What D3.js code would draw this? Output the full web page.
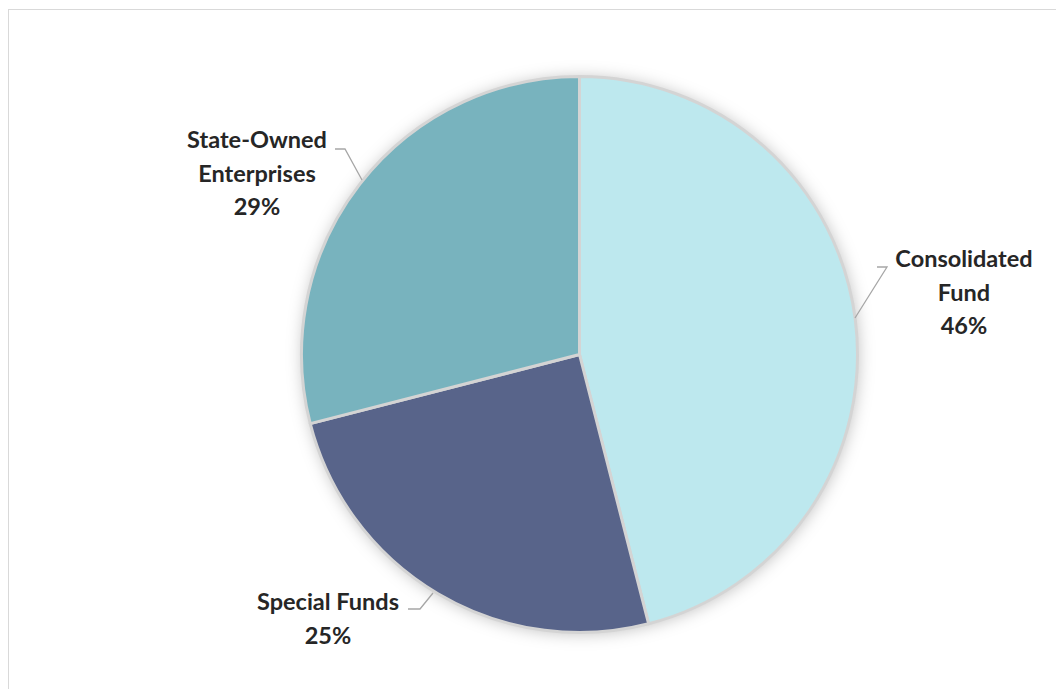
<!DOCTYPE html>
<html>
<head>
<meta charset="utf-8">
<script src="https://cdn.jsdelivr.net/npm/d3@7"></script>
<style>
  html, body { margin: 0; padding: 0; background: #fff; }
  svg { display: block; }
</style>
</head>
<body>
<div id="chart"></div>
<script>
const categories = ['Consolidated Fund', 'Special Funds', 'State-Owned Enterprises'];
const shares = [46, 25, 29];
const labelLines = [['Consolidated', 'Fund'], ['Special Funds'], ['State-Owned', 'Enterprises']];
const colors = ['#bde8ee', '#58648a', '#78b3be'];

const width = 1056, height = 689;
const cx = 579.5, cy = 354.5, r = 278;

const svg = d3.select('#chart').append('svg')
  .attr('width', width).attr('height', height);

// chart frame
svg.append('rect').attr('x', 8.5).attr('y', 9.5).attr('width', 1100).attr('height', 800)
  .attr('fill', 'none').attr('stroke', '#d9d9d9').attr('stroke-width', 1);

const defs = svg.append('defs');
const f = defs.append('filter').attr('id', 'shadow').attr('x', '-20%').attr('y', '-20%').attr('width', '140%').attr('height', '140%');
f.append('feDropShadow').attr('dx', 1).attr('dy', 1).attr('stdDeviation', 8)
  .attr('flood-color', '#000').attr('flood-opacity', 0.25);

const pie = d3.pie().sort(null).value(d => d);
const arcs = pie(shares);
const arc = d3.arc().innerRadius(0).outerRadius(r);

const g = svg.append('g').attr('transform', `translate(${cx},${cy})`);
g.append('circle').attr('r', r).attr('fill', '#d4d4d4').attr('filter', 'url(#shadow)');
g.selectAll('path.slice').data(arcs).join('path')
  .attr('class', 'slice')
  .attr('d', arc)
  .attr('fill', (d, i) => colors[i])
  .attr('stroke', '#d4d4d4').attr('stroke-width', 3).attr('stroke-linejoin', 'round');

// label anchors (center of text block) and leader lines
const labelPos = [
  { x: 964, y: 259, lead: [[877, 267], [887, 267], [855, 318]] },
  { x: 328, y: 602, lead: [[408, 609], [420, 609], [433, 593]] },
  { x: 257, y: 140, lead: [[335, 149], [345, 149], [362, 180]] }
];

labelPos.forEach((p, i) => {
  svg.append('polyline')
    .attr('points', p.lead.map(q => q.join(',')).join(' '))
    .attr('fill', 'none').attr('stroke', '#a6a6a6').attr('stroke-width', 1.3);
  const t = svg.append('text')
    .attr('text-anchor', 'middle')
    .attr('font-family', 'Lato, "Open Sans", sans-serif')
    .attr('font-weight', 700).attr('font-size', 23.5).attr('fill', '#262626');
  const lines = labelLines[i].concat([`${shares[i]}%`]);
  lines.forEach((s, k) => {
    t.append('tspan').attr('x', p.x).attr('y', p.y + 8 + k * 33.5).text(s);
  });
});
</script>
</body>
</html>
